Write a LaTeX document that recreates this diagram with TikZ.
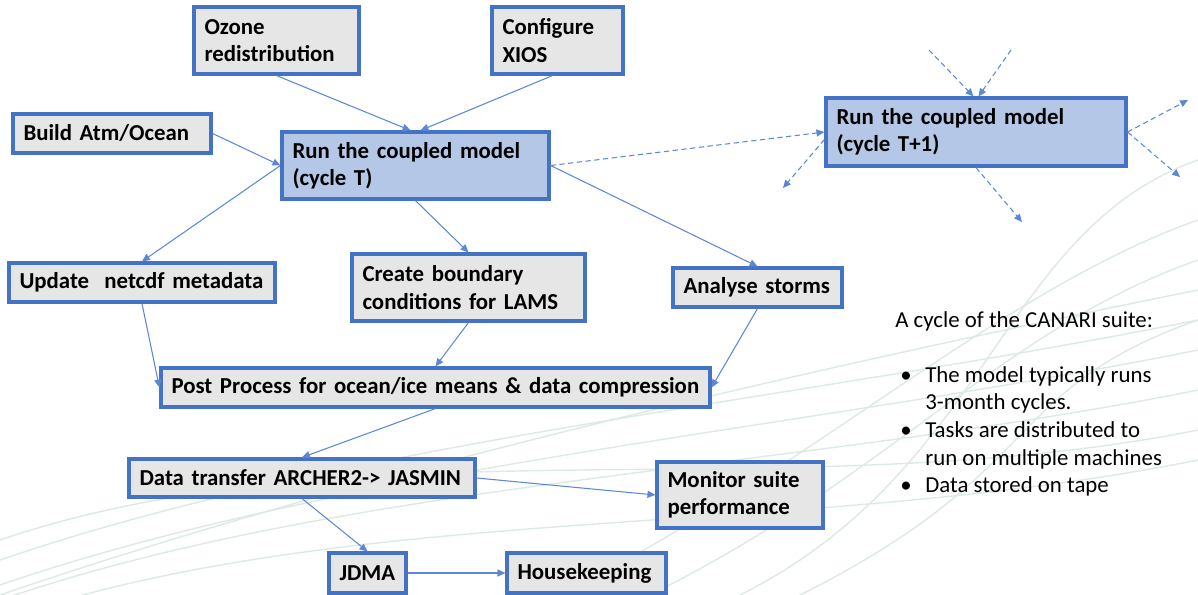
\documentclass[tikz,border=0pt]{standalone}
\usepackage{fontspec}
\setmainfont{Carlito}
\usetikzlibrary{arrows.meta}
\definecolor{boxblue}{HTML}{4472C4}
\definecolor{boxgrey}{HTML}{E7E6E6}
\definecolor{runblue}{HTML}{B4C7E7}
\definecolor{linkblue}{HTML}{5B87D6}
\definecolor{swirlgreen}{HTML}{DCE9E5}
\begin{document}
\begin{tikzpicture}[x=0.02cm, y=-0.02cm,
  task/.style={draw=boxblue, line width=1.8pt, fill=boxgrey, align=left,
    font=\fontsize{13}{15.5}\selectfont\bfseries, inner xsep=6pt, inner ysep=0pt},
  run/.style={task, fill=runblue},
  link/.style={draw=linkblue, line width=0.6pt, -{Triangle[length=4.5pt,width=4pt]}},
  next/.style={link, dash pattern=on 3pt off 2pt},
  swirl/.style={draw=swirlgreen, line width=0.8pt}]
\useasboundingbox (0,0) rectangle (1198,595);
% background swirls
\foreach \a/\b in {560/320, 585/350, 600/390, 540/430, 595/290, 620/460}
  \draw[swirl] (0,\a) .. controls (350,\a-120) and (800,\b+80) .. (1198,\b);
\foreach \a/\b in {560/220, 650/260, 740/160, 800/320}
  \draw[swirl] (\a,595) .. controls (\a+250,470) and (1000,\b+70) .. (1198,\b);
% tasks
\node[task, text width=2.88cm, minimum height=1.34cm] (ozone) at (276.5,40.5) {Ozone\\redistribution};
\node[task, text width=2.20cm, minimum height=1.34cm] (xios) at (557.5,40.5) {Configure\\XIOS};
\node[task, text width=3.54cm, minimum height=0.78cm] (build) at (112,133.5) {Build Atm/Ocean};
\node[run, text width=4.92cm, minimum height=1.34cm] (runT) at (415.5,165.5) {Run the coupled model\\(cycle T)};
\node[run, text width=5.58cm, minimum height=1.36cm] (runT1) at (976,132) {Run the coupled model\\(cycle T+1)};
\node[task, text width=4.90cm, minimum height=0.78cm] (netcdf) at (142,282.5) {Update~ netcdf metadata};
\node[task, text width=4.24cm, minimum height=1.34cm] (lams) at (468.5,287.5) {Create boundary\\conditions for LAMS};
\node[task, text width=2.96cm, minimum height=0.78cm] (storms) at (757.5,287.5) {Analyse storms};
\node[task, text width=10.56cm, minimum height=0.78cm] (post) at (435.5,387.5) {Post Process for ocean/ice means \& data compression};
\node[task, text width=6.50cm, minimum height=0.76cm] (transfer) at (302,478) {Data transfer ARCHER2-> JASMIN};
\node[task, text width=2.90cm, minimum height=1.32cm] (monitor) at (740,495) {Monitor suite\\performance};
\node[task, text width=1.12cm, minimum height=0.80cm] (jdma) at (367.5,573) {JDMA};
\node[task, text width=2.76cm, minimum height=0.80cm] (house) at (586.5,573) {Housekeeping};
% notes
\node[anchor=north west, align=left, inner sep=0pt, font=\fontsize{13}{15.7}\selectfont] (notes) at (895,311)
  {A cycle of the CANARI suite:\\[15.7pt]
   \hspace*{0.1cm}\makebox[0.5cm][l]{\textbullet}The model typically runs\\
   \hspace*{0.6cm}3-month cycles.\\
   \hspace*{0.1cm}\makebox[0.5cm][l]{\textbullet}Tasks are distributed to\\
   \hspace*{0.6cm}run on multiple machines\\
   \hspace*{0.1cm}\makebox[0.5cm][l]{\textbullet}Data stored on tape};
% links
\draw[link] (ozone.south) -- ([xshift=-0.1cm]runT.north);
\draw[link] ([xshift=-0.1cm]xios.south) -- ([xshift=0.1cm]runT.north);
\draw[link] (build.east) -- (runT.west);
\draw[link] (runT.west) -- (netcdf.north);
\draw[link] (runT.south) -- (lams.north);
\draw[link] (runT.east) -- (storms.north);
\draw[next] (runT.east) -- (runT1.west);
\draw[link] (netcdf.south) -- (post.west);
\draw[link] (lams.south) -- (post.north);
\draw[link] (storms.south) -- (post.east);
\draw[link] (post.south) -- (transfer.north);
\draw[link] (transfer.south) -- (jdma.north);
\draw[link] (transfer.east) -- (monitor.west);
\draw[link] (jdma.east) -- (house.west);
% next cycle stubs
\coordinate (in1) at (929,50);
\coordinate (in2) at (1011,50);
\coordinate (out1) at (783,188);
\coordinate (out2) at (1022,222);
\coordinate (out3) at (1188,100);
\coordinate (out4) at (1180,177);
\draw[next] (in1) -- ([xshift=-0.05cm]runT1.north);
\draw[next] (in2) -- ([xshift=0.05cm]runT1.north);
\draw[next] ([yshift=-0.15cm]runT1.west) -- (out1);
\draw[next] (runT1.south) -- (out2);
\draw[next] (runT1.east) -- (out3);
\draw[next] (runT1.east) -- (out4);
\end{tikzpicture}
\end{document}
